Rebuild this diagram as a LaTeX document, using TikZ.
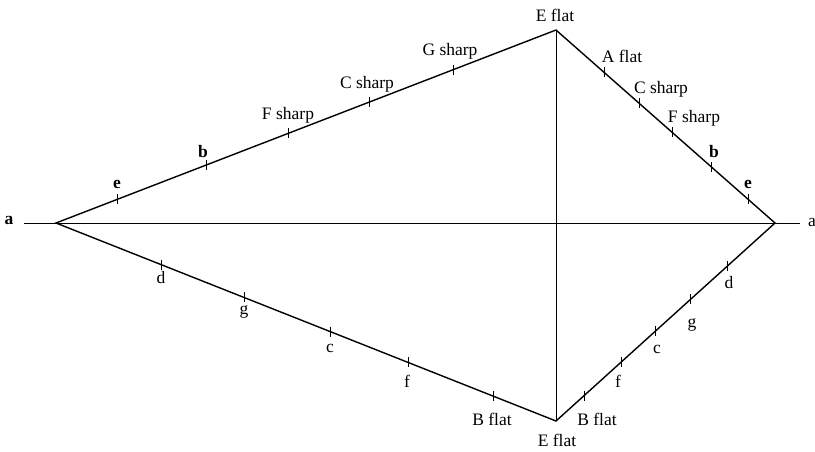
\documentclass[tikz,border=0pt]{standalone}
\usepackage{fontspec}
\setmainfont{Liberation Serif}
\usetikzlibrary{calc}

\tikzstyle{edge} = [line width=1.4pt, black, line join=miter]
\tikzstyle{axis} = [line width=1pt, black]
\tikzstyle{tick} = [line width=0.9pt, black]
\tikzstyle{note} = [
    inner sep=0pt, anchor=base,
    font=\fontsize{17.5}{19}\selectfont
]
\tikzstyle{bnote} = [note, font=\fontsize{17.5}{19}\selectfont\bfseries]

\begin{document}
\begin{tikzpicture}[x=1pt, y=-1pt]
    \useasboundingbox (0,0) rectangle (815,451);

    % corners of the kite
    \coordinate (left) at (56,223);
    \coordinate (top) at (556,30);
    \coordinate (right) at (775,223);
    \coordinate (bottom) at (556,421);
    \coordinate (west) at (24,223);
    \coordinate (east) at (800,223);

    \draw [axis] (west) -- (east);
    \draw [axis] (top) -- (bottom);
    \draw [edge] (left) -- (top) -- (right) -- (bottom) -- cycle;

    % ticks
    \foreach \p in {0.122,0.3,0.464,0.626,0.794}
        \draw [tick] ($(left)!\p!(top)$) ++(0,-5) -- ++(0,10);
    \foreach \p in {0.219,0.379,0.53,0.712,0.877}
        \draw [tick] ($(top)!\p!(right)$) ++(0,-5) -- ++(0,10);
    \foreach \p in {0.21,0.376,0.548,0.704,0.874}
        \draw [tick] ($(left)!\p!(bottom)$) ++(0,-5) -- ++(0,10);
    \foreach \p in {0.215,0.384,0.544,0.703,0.872}
        \draw [tick] ($(right)!\p!(bottom)$) ++(0,-5) -- ++(0,10);

    % ends
    \node (aw) [bnote] at (9,224) {a};
    \node (ae) [note] at (812,226) {a};
    \node (eftop) [note] at (555,21) {E flat};
    \node (efbot) [note] at (557,446) {E flat};

    % upper left
    \node (ul1) [bnote] at (117,188) {e};
    \node (ul2) [bnote] at (203,157) {b};
    \node (ul3) [note] at (288,119) {F sharp};
    \node (ul4) [note] at (367,88) {C sharp};
    \node (ul5) [note] at (450,55) {G sharp};

    % upper right
    \node (ur1) [note] at (622,62) {A flat};
    \node (ur2) [note] at (661,93) {C sharp};
    \node (ur3) [note] at (694,122) {F sharp};
    \node (ur4) [bnote] at (714,157) {b};
    \node (ur5) [bnote] at (748,188) {e};

    % lower left
    \node (ll1) [note] at (161,283) {d};
    \node (ll2) [note] at (244,314) {g};
    \node (ll3) [note] at (330,352) {c};
    \node (ll4) [note] at (407,387) {f};
    \node (ll5) [note] at (492,425) {B flat};

    % lower right
    \node (lr1) [note] at (729,288) {d};
    \node (lr2) [note] at (692,327) {g};
    \node (lr3) [note] at (657,353) {c};
    \node (lr4) [note] at (618,387) {f};
    \node (lr5) [note] at (597,425) {B flat};
\end{tikzpicture}
\end{document}
